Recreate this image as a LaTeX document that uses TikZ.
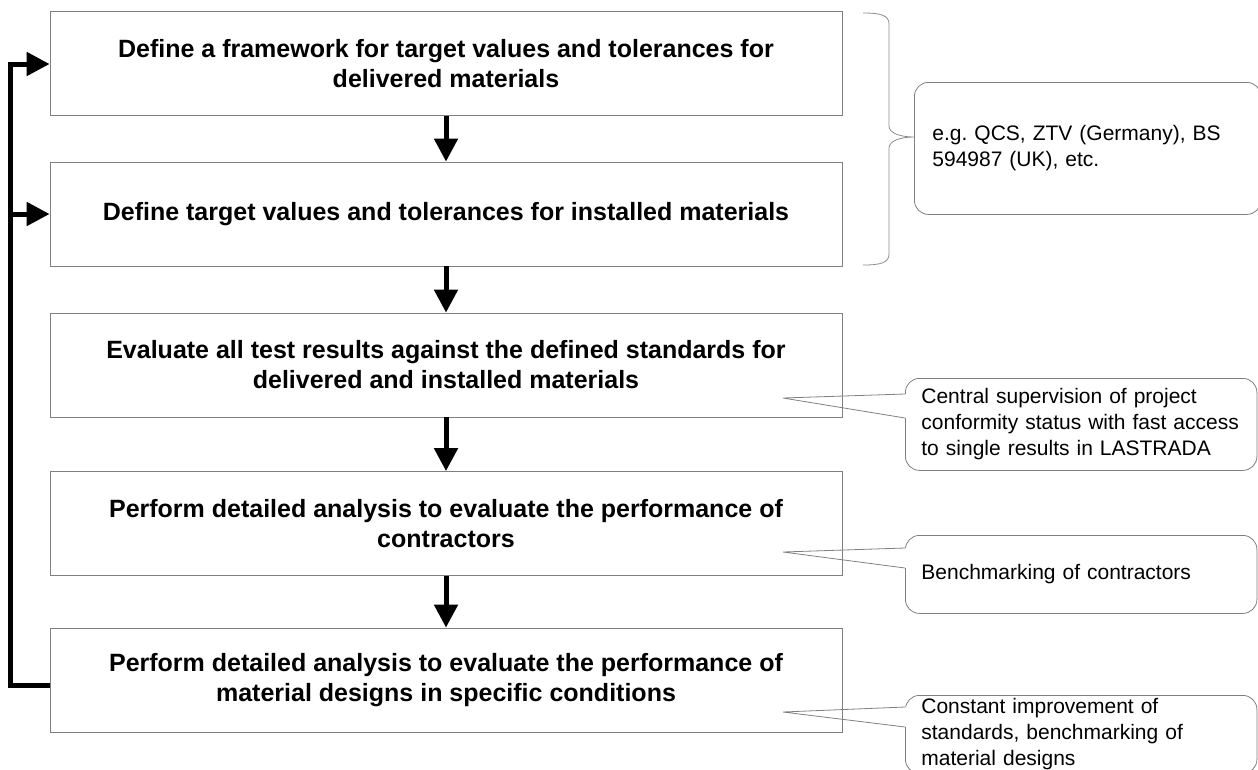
\documentclass[tikz,border=0pt]{standalone}
\usepackage{fontspec}
\setmainfont{Liberation Sans}
\usetikzlibrary{arrows.meta}
\begin{document}
\begin{tikzpicture}[x=1pt,y=-1pt,
    stage/.style={draw=black!50,line width=0.8pt,minimum width=792pt,minimum height=104pt,
      align=center,font=\fontsize{25}{30}\selectfont\bfseries},
    note/.style={draw=black!50,line width=0.8pt,rounded corners=14pt,anchor=north west,
      align=left,inner xsep=16pt,inner ysep=2pt,font=\fontsize{21}{26}\selectfont},
    pointer/.style={draw=black!50,line width=0.8pt},
    flow/.style={line width=5pt,-{Triangle[length=23pt,width=23pt]}}]
  \useasboundingbox (0,0) rectangle (1258,769);
  \node[stage] (frame) at (446,63.5) {Define a framework for target values and tolerances for\\delivered materials};
  \node[stage] (targets) at (446,214) {Define target values and tolerances for installed materials};
  \node[stage] (evaluate) at (446,365) {Evaluate all test results against the defined standards for\\delivered and installed materials};
  \node[stage] (contractors) at (446,523.5) {Perform detailed analysis to evaluate the performance of\\contractors};
  \node[stage] (designs) at (446,680) {Perform detailed analysis to evaluate the performance of\\material designs in specific conditions};
  \draw[flow] (frame) -- (targets);
  \draw[flow] (targets) -- (evaluate);
  \draw[flow] (evaluate) -- (contractors);
  \draw[flow] (contractors) -- (designs);
  \coordinate (loop bottom) at (10,685);
  \coordinate (loop top) at (10,64);
  \coordinate (loop mid) at (10,214);
  \draw[flow] ([yshift=-5pt]designs.west) -- (loop bottom) -- (loop top) -- (frame.west |- loop top);
  \draw[flow] (loop mid) -- (targets.west);
  \draw[black!45,line width=0.8pt] (863,13) .. controls (880,13) and (889,15) .. (889,24) -- (889,126)
    .. controls (889,133) and (900,137) .. (914,137) .. controls (900,137) and (889,141) .. (889,148)
    -- (889,254) .. controls (889,263) and (880,265) .. (863,265);
  \node[note,text width=310.5pt,minimum height=132pt,inner xsep=18pt] (norms) at (914,82) {e.g.\ QCS, ZTV (Germany), BS\\594987 (UK), etc.};
  \node[note,text width=319.5pt,minimum height=92pt] (supervision) at (905,378) {Central supervision of project\\conformity status with fast access\\to single results in LASTRADA};
  \node[note,text width=319.5pt,minimum height=78pt] (benchmark) at (905,535) {Benchmarking of contractors};
  \node[note,text width=319.5pt,minimum height=78pt] (improvement) at (905,695) {Constant improvement of\\standards, benchmarking of\\material designs};
  \coordinate (tip evaluate) at (783,398);
  \coordinate (tip contractors) at (783,552);
  \coordinate (tip designs) at (783,712);
  \draw[white,line width=2pt] ([yshift=-16pt]supervision.north west) -- ([yshift=-40pt]supervision.north west);
  \draw[pointer] ([yshift=-16pt]supervision.north west) -- (tip evaluate) -- ([yshift=-40pt]supervision.north west);
  \draw[white,line width=2pt] ([yshift=-13pt]benchmark.north west) -- ([yshift=-33pt]benchmark.north west);
  \draw[pointer] ([yshift=-13pt]benchmark.north west) -- (tip contractors) -- ([yshift=-33pt]benchmark.north west);
  \draw[white,line width=2pt] ([yshift=-12pt]improvement.north west) -- ([yshift=-32pt]improvement.north west);
  \draw[pointer] ([yshift=-12pt]improvement.north west) -- (tip designs) -- ([yshift=-32pt]improvement.north west);
\end{tikzpicture}
\end{document}
